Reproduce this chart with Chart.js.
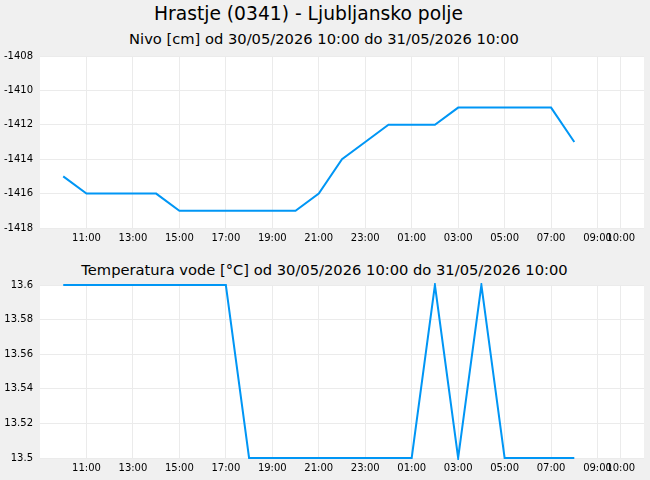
<!DOCTYPE html>
<html lang="sl">
<head>
    <meta charset="UTF-8">
    <title>Hrastje (0341) - Ljubljansko polje</title>
    <script src="https://cdn.jsdelivr.net/npm/chart.js@4"></script>
    <style>
        body {
            margin: 0;
            background-color: #f0f0f0;
            font-family: "DejaVu Sans", sans-serif;
            width: 650px;
            height: 480px;
            overflow: hidden;
            position: relative;
        }

        .title {
            position: absolute;
            line-height: 1;
            white-space: nowrap;
            color: #000;
            text-align: center;
        }

        #mainTitle {
            left: 0;
            width: 617px;
            top: 5px;
            font-size: 18.7px;
        }

        #nivoTitle {
            left: 0;
            width: 648px;
            top: 32px;
            font-size: 14.7px;
        }

        #tempTitle {
            left: 0;
            width: 649px;
            top: 263px;
            font-size: 14.7px;
        }

        .box {
            position: absolute;
            left: 0;
            width: 650px;
        }
    </style>
</head>
<body>
    <div class="title" id="mainTitle">Hrastje (0341) - Ljubljansko polje</div>
    <div class="title" id="nivoTitle">Nivo [cm] od 30/05/2026 10:00 do 31/05/2026 10:00</div>
    <div class="title" id="tempTitle">Temperatura vode [°C] od 30/05/2026 10:00 do 31/05/2026 10:00</div>

    <div class="box" style="top: 0; height: 250px;"><canvas id="nivoChart"></canvas></div>
    <div class="box" style="top: 250px; height: 230px;"><canvas id="tempChart"></canvas></div>

    <script>
        // hours counted from 30/05/2026 00:00
        const hours = [10, 11, 12, 13, 14, 15, 16, 17, 18, 19, 20, 21, 22, 23, 24, 25, 26, 27, 28, 29, 30, 31, 32];
        const nivo = [-1415, -1416, -1416, -1416, -1416, -1417, -1417, -1417, -1417, -1417, -1417, -1416,
                      -1414, -1413, -1412, -1412, -1412, -1411, -1411, -1411, -1411, -1411, -1413];
        const temperatura = [13.6, 13.6, 13.6, 13.6, 13.6, 13.6, 13.6, 13.6, 13.5, 13.5, 13.5, 13.5,
                             13.5, 13.5, 13.5, 13.5, 13.6, 13.5, 13.6, 13.5, 13.5, 13.5, 13.5];
        const xTicks = [11, 13, 15, 17, 19, 21, 23, 25, 27, 29, 31, 33, 34];
        const xMin = 9;
        const xMax = 35;

        const lineColor = '#0096f5';
        const gridColor = '#ebebeb';

        Chart.defaults.font.family = '"DejaVu Sans", sans-serif';
        Chart.defaults.font.size = 10;
        Chart.defaults.color = '#000';

        // white plot area on grey page
        const plotBackground = {
            id: 'plotBackground',
            beforeDraw(chart) {
                const a = chart.chartArea;
                const ctx = chart.ctx;
                ctx.save();
                ctx.fillStyle = '#fff';
                ctx.fillRect(a.left, a.top, a.right - a.left, a.bottom - a.top);
                ctx.restore();
            }
        };

        function hourLabel(v) {
            const h = v % 24;
            return (h < 10 ? '0' : '') + h + ':00';
        }

        function makeChart(id, values, yMin, yMax, yStep, yFormat, padTop) {
            const ctx = document.getElementById(id).getContext('2d');
            return new Chart(ctx, {
                type: 'line',
                data: {
                    datasets: [{
                        data: hours.map((h, i) => ({ x: h, y: values[i] })),
                        borderColor: lineColor,
                        borderWidth: 2,
                        pointRadius: 0,
                        tension: 0,
                        fill: false,
                        clip: 2
                    }]
                },
                options: {
                    responsive: true,
                    maintainAspectRatio: false,
                    animation: false,
                    layout: { padding: { top: padTop, right: 6, left: 0, bottom: 0 } },
                    plugins: {
                        legend: { display: false },
                        tooltip: { enabled: false }
                    },
                    scales: {
                        x: {
                            type: 'linear',
                            min: xMin,
                            max: xMax,
                            afterBuildTicks: scale => {
                                scale.ticks = xTicks.map(v => ({ value: v }));
                            },
                            afterFit: scale => { scale.height = 22; },
                            ticks: {
                                autoSkip: false,
                                maxRotation: 0,
                                padding: 4,
                                callback: v => hourLabel(v)
                            },
                            grid: { color: gridColor, drawTicks: false },
                            border: { display: false }
                        },
                        y: {
                            min: yMin,
                            max: yMax,
                            afterFit: scale => { scale.width = 40; },
                            ticks: {
                                stepSize: yStep,
                                padding: 7,
                                callback: v => yFormat(v)
                            },
                            grid: { color: gridColor, drawTicks: false },
                            border: { display: false }
                        }
                    }
                },
                plugins: [plotBackground]
            });
        }

        makeChart('nivoChart', nivo, -1418, -1408, 2, v => String(v), 56);
        makeChart('tempChart', temperatura, 13.5, 13.6, 0.02, v => String(+v.toFixed(2)), 35);
    </script>
</body>
</html>
